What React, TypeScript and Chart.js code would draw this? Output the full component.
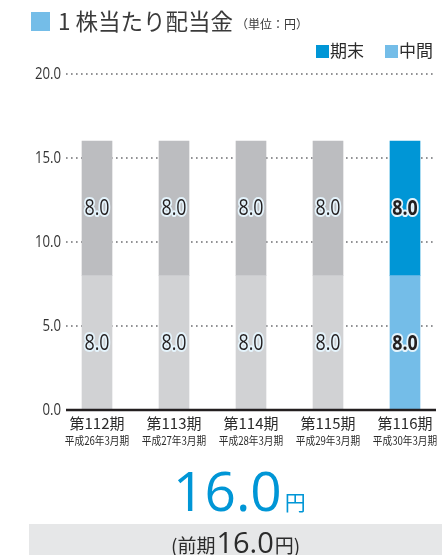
import React, { useEffect, useRef } from 'react';
import { Chart, registerables } from 'chart.js';

Chart.register(...registerables);

const categories = ['第112期', '第113期', '第114期', '第115期', '第116期'];
const periodLabels = ['平成26年3月期', '平成27年3月期', '平成28年3月期', '平成29年3月期', '平成30年3月期'];
const interimDividend = [8.0, 8.0, 8.0, 8.0, 8.0]; // 中間
const yearEndDividend = [8.0, 8.0, 8.0, 8.0, 8.0]; // 期末
const yTickValues = [0, 5, 10, 15, 20];
const currentTotal = 16.0;
const previousTotal = 16.0;

const titleText = '1 株当たり配当金';
const unitText = '（単位：円）';
const legendYearEnd = '期末';
const legendInterim = '中間';

const CJK = '"Noto Sans CJK JP", sans-serif';
const NUM = '"Open Sans", sans-serif';

const BLUE = '#0096d6';
const LIGHT_BLUE = '#74bde8';
const GRAY_UPPER = '#bcbdc0';
const GRAY_LOWER = '#d1d2d4';
const TEXT = '#2b2b2b';

export default function App() {
  const ref = useRef<HTMLCanvasElement>(null);

  useEffect(() => {
    const canvas = ref.current;
    if (!canvas) return;
    const last = categories.length - 1;

    const overlay = {
      id: 'overlay',
      beforeDatasetsDraw(chart: any) {
        const ctx = chart.ctx as CanvasRenderingContext2D;
        const y = chart.scales.y;
        ctx.save();
        ctx.strokeStyle = '#6d6e71';
        ctx.lineWidth = 1.6;
        ctx.setLineDash([1.6, 3.4]);
        yTickValues.forEach((v) => {
          if (v === 0) return;
          const py = y.getPixelForValue(v);
          ctx.beginPath();
          ctx.moveTo(66, py);
          ctx.lineTo(436, py);
          ctx.stroke();
        });
        ctx.restore();
      },
      afterDatasetsDraw(chart: any) {
        const ctx = chart.ctx as CanvasRenderingContext2D;
        const y = chart.scales.y;
        const x = chart.scales.x;
        ctx.save();
        const y0 = y.getPixelForValue(0);
        ctx.strokeStyle = '#231f20';
        ctx.lineWidth = 2.6;
        ctx.beginPath();
        ctx.moveTo(66, y0);
        ctx.lineTo(436, y0);
        ctx.stroke();

        ctx.fillStyle = '#333';
        ctx.textAlign = 'right';
        ctx.textBaseline = 'middle';
        ctx.font = `16.5px ${NUM}`;
        yTickValues.forEach((v) => {
          const py = y.getPixelForValue(v);
          ctx.save();
          ctx.translate(61, py);
          ctx.scale(0.8, 1);
          ctx.fillText(v.toFixed(1), 0, 0);
          ctx.restore();
        });

        chart.data.datasets.forEach((ds: any, d: number) => {
          const meta = chart.getDatasetMeta(d);
          meta.data.forEach((bar: any, i: number) => {
            const p = bar.getProps(['x', 'y', 'base'], true);
            const cy = (p.y + p.base) / 2;
            const txt = Number(ds.data[i]).toFixed(1);
            ctx.save();
            ctx.translate(p.x, cy);
            ctx.scale(0.85, 1);
            ctx.font = `${i === last ? 'bold ' : ''}21px ${NUM}`;
            ctx.textAlign = 'center';
            ctx.textBaseline = 'middle';
            ctx.lineJoin = 'round';
            ctx.lineWidth = 4;
            ctx.strokeStyle = '#e4f3fb';
            ctx.strokeText(txt, 0, 1);
            ctx.fillStyle = '#231f20';
            ctx.fillText(txt, 0, 1);
            ctx.restore();
          });
        });

        categories.forEach((c, i) => {
          const px = x.getPixelForValue(i);
          ctx.fillStyle = TEXT;
          ctx.textAlign = 'center';
          ctx.textBaseline = 'alphabetic';
          ctx.font = `15px ${CJK}`;
          ctx.fillText(c, px, 429);
          ctx.save();
          ctx.translate(px, 445);
          ctx.scale(0.84, 1);
          ctx.font = `11.5px ${CJK}`;
          ctx.fillText(periodLabels[i], 0, 0);
          ctx.restore();
        });
        ctx.restore();
      },
      afterDraw(chart: any) {
        const ctx = chart.ctx as CanvasRenderingContext2D;
        ctx.save();
        ctx.textBaseline = 'alphabetic';
        ctx.textAlign = 'left';
        ctx.fillStyle = LIGHT_BLUE;
        ctx.fillRect(31, 12, 19, 19);
        ctx.fillStyle = '#3a3a3a';
        ctx.font = `22.5px ${CJK}`;
        ctx.fillText(titleText, 58, 29.5);
        ctx.font = `12px ${CJK}`;
        ctx.fillText(unitText, 236, 29);
        ctx.fillStyle = BLUE;
        ctx.fillRect(316, 45, 13, 13);
        ctx.fillStyle = LIGHT_BLUE;
        ctx.fillRect(385, 45, 13, 13);
        ctx.fillStyle = TEXT;
        ctx.font = `17px ${CJK}`;
        ctx.fillText(legendYearEnd, 330, 57);
        ctx.fillText(legendInterim, 399, 57);

        ctx.fillStyle = BLUE;
        ctx.font = `55px ${NUM}`;
        const big = currentTotal.toFixed(1);
        ctx.fillText(big, 173, 511);
        const bw = ctx.measureText(big).width;
        ctx.font = `21px ${CJK}`;
        ctx.fillText('円', 173 + bw + 3, 510);

        ctx.fillStyle = '#e6e7e8';
        ctx.fillRect(29, 524, 413, 31);
        ctx.fillStyle = TEXT;
        let cx = 171;
        const base = 553;
        ctx.font = `19px ${CJK}`;
        ctx.fillText('(前期', cx, base);
        cx += ctx.measureText('(前期').width + 1;
        ctx.font = `29px ${NUM}`;
        const prev = previousTotal.toFixed(1);
        ctx.fillText(prev, cx, base);
        cx += ctx.measureText(prev).width + 1;
        ctx.font = `19px ${CJK}`;
        ctx.fillText('円)', cx, base);
        ctx.restore();
      },
    };

    const chart = new Chart(canvas, {
      type: 'bar',
      data: {
        labels: categories,
        datasets: [
          {
            label: legendInterim,
            data: interimDividend,
            backgroundColor: categories.map((_, i) => (i === last ? LIGHT_BLUE : GRAY_LOWER)),
            barThickness: 30,
            borderWidth: 0,
          },
          {
            label: legendYearEnd,
            data: yearEndDividend,
            backgroundColor: categories.map((_, i) => (i === last ? BLUE : GRAY_UPPER)),
            barThickness: 30,
            borderWidth: 0,
          },
        ],
      },
      options: {
        responsive: false,
        maintainAspectRatio: false,
        animation: false,
        devicePixelRatio: 1,
        layout: { padding: { left: 58.5, right: 8.5, top: 74, bottom: 145 } },
        scales: {
          x: { type: 'category', stacked: true, display: false, offset: true },
          y: { stacked: true, min: 0, max: yTickValues[yTickValues.length - 1], display: false },
        },
        plugins: {
          legend: { display: false },
          tooltip: { enabled: false },
        },
      },
      plugins: [overlay],
    });
    return () => chart.destroy();
  }, []);

  return (
    <div style={{ position: 'absolute', left: 0, top: 0, width: 442, height: 555, overflow: 'hidden', background: '#fff' }}>
      <canvas ref={ref} width={452} height={555} style={{ width: 452, height: 555, display: 'block' }} />
    </div>
  );
}
